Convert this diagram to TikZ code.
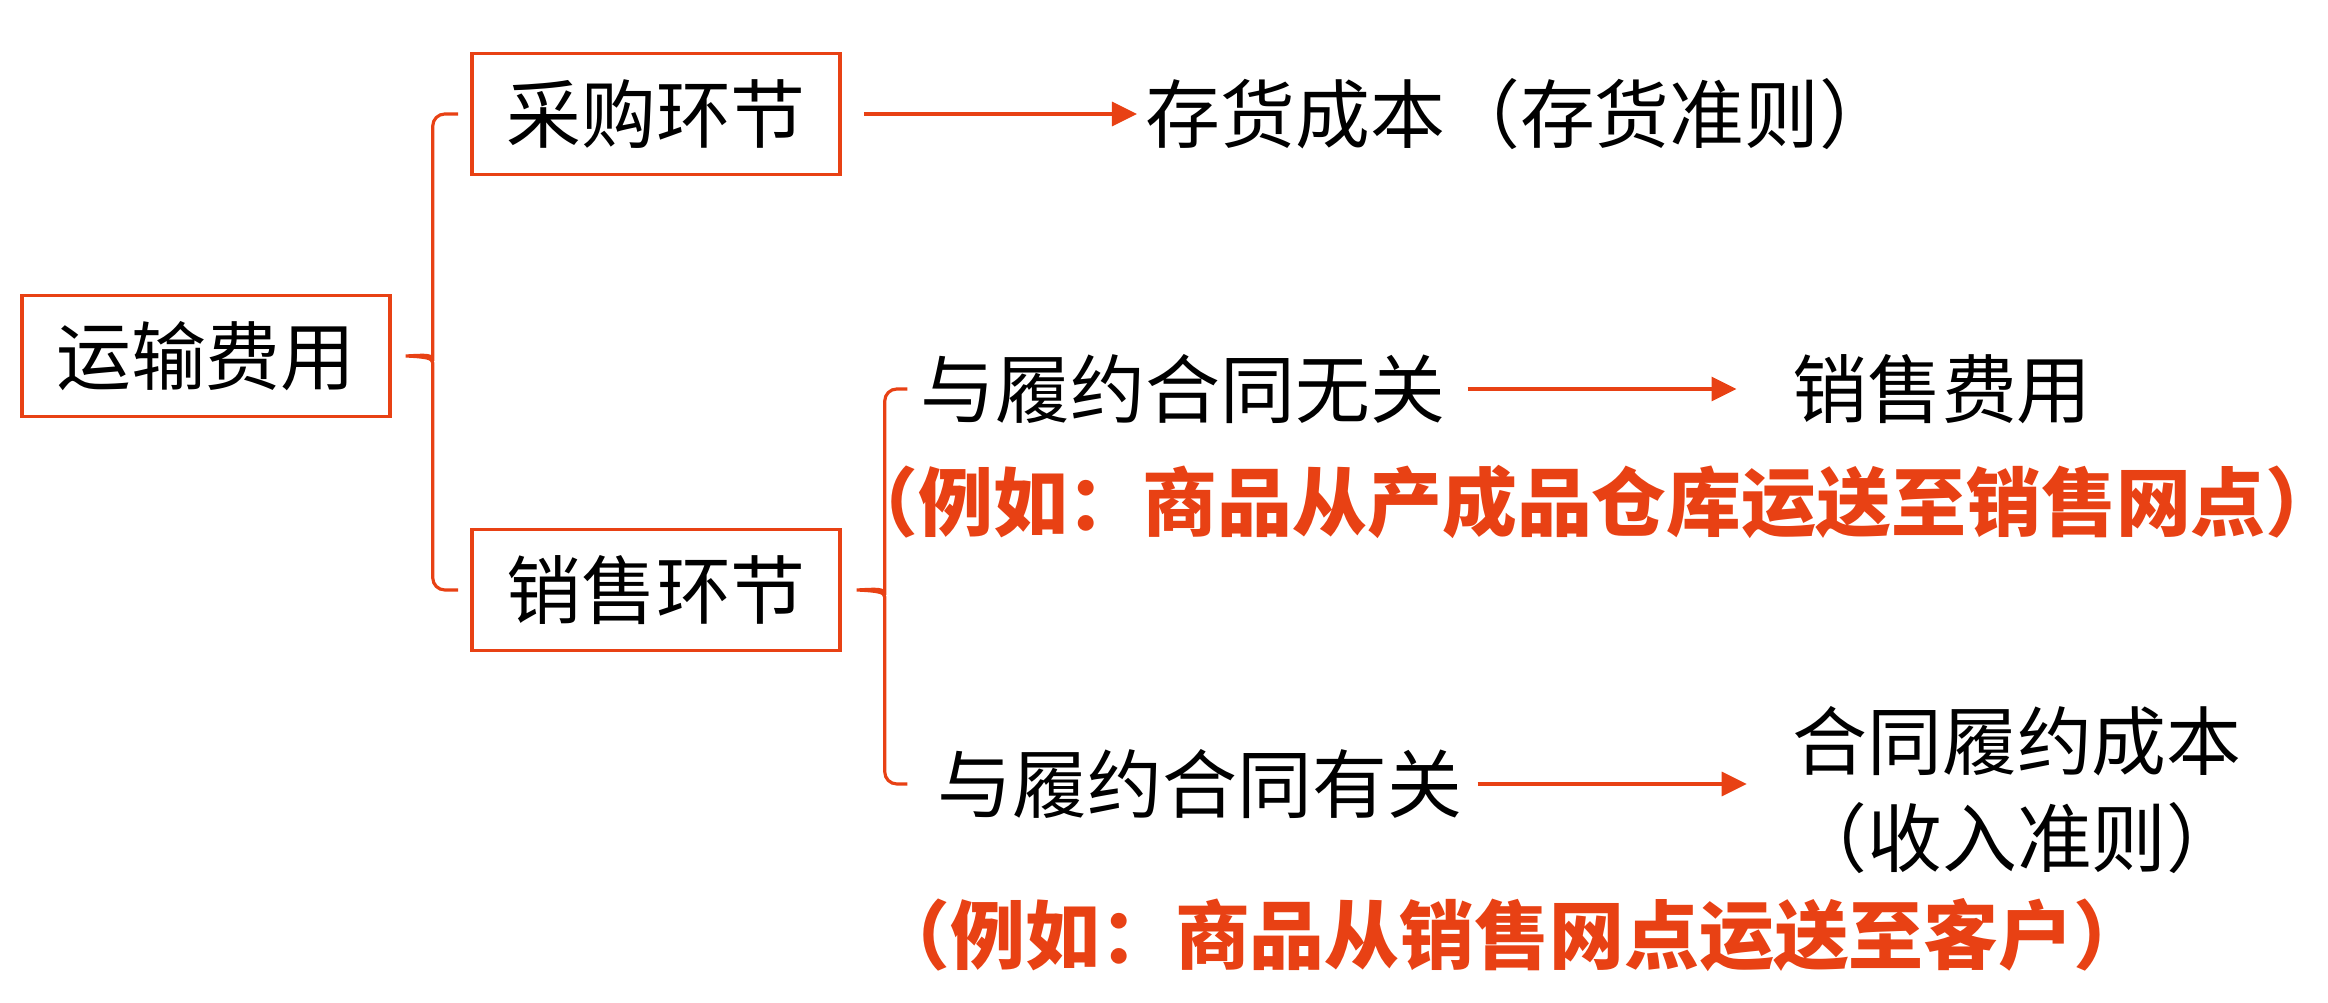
\documentclass[tikz,border=0pt]{standalone}
\usepackage{fontspec}
\setmainfont{Noto Sans CJK SC}
\usepackage{xcolor}
\usepackage{tikz}
\usetikzlibrary{arrows.meta,positioning,calc}

\definecolor{hong}{RGB}{232,65,20}

\tikzset{
  kuang/.style={draw=hong, line width=1pt, minimum width=3.68cm, minimum height=1.21cm},
  wenzi/.style={inner sep=0.08cm},
  lizi/.style={inner sep=0pt, text=hong, font=\fontsize{21.3}{27.5}\selectfont\bfseries},
  arr/.style={draw=hong, line width=0.9pt, -{Triangle[length=0.25cm, width=0.24cm]}},
  brc/.style={draw=hong, line width=0.9pt}
}

\begin{document}
\begin{tikzpicture}[font=\fontsize{21.3}{27.5}\selectfont, x=1cm, y=1cm]
\useasboundingbox (0,0) rectangle (23.28,-10.03);
% Boxes
\node[kuang] (yunshu) at (2.06,-3.56) {运输费用};
\node[kuang] (caigou) at (6.56,-1.14) {采购环节};
\node[kuang] (xiaoshou) at (6.56,-5.90) {销售环节};
% Texts
\node[wenzi] (cunhuo) at (15.20,-1.14) {存货成本（存货准则）};
\node[wenzi] (wuguan) at (11.83,-3.89) {与履约合同无关};
\node[wenzi] (feiyong) at (19.42,-3.89) {销售费用};
\node[lizi] (lizi1) at (15.92,-5.02) {（例如：商品从产成品仓库运送至销售网点）};
\node[wenzi] (youguan) at (12.00,-7.84) {与履约合同有关};
\node[wenzi, align=center] (hetong) at (20.17,-7.90) {合同履约成本\\（收入准则）};
\node[lizi] (lizi2) at (15.12,-9.35) {（例如：商品从销售网点运送至客户）};
% Braces
\coordinate (b1tip) at ([xshift=0.14cm]yunshu.east);
\coordinate (b1v) at ([xshift=0.27cm]b1tip);
\coordinate (b1top) at ([xshift=-0.12cm]caigou.west);
\coordinate (b1bot) at ([xshift=-0.12cm]xiaoshou.west);
\draw[brc] (b1top) [rounded corners=0.12cm] -- (b1top -| b1v) -- ([yshift=0.07cm]b1v)
  [sharp corners] .. controls +(0,-0.05) and +(0.2,0.01) .. (b1tip)
  .. controls +(0.2,-0.01) and +(0,0.05) .. ([yshift=-0.07cm]b1v)
  [rounded corners=0.12cm] -- (b1bot -| b1v) -- (b1bot);
\coordinate (b2tip) at ([xshift=0.15cm]xiaoshou.east);
\coordinate (b2v) at ([xshift=0.28cm]b2tip);
\coordinate (b2top) at ([xshift=-0.05cm]wuguan.west);
\coordinate (b2bot) at (b2top |- youguan.west);
\draw[brc] (b2top) [rounded corners=0.12cm] -- (b2top -| b2v) -- ([yshift=0.07cm]b2v)
  [sharp corners] .. controls +(0,-0.05) and +(0.2,0.01) .. (b2tip)
  .. controls +(0.2,-0.01) and +(0,0.05) .. ([yshift=-0.07cm]b2v)
  [rounded corners=0.12cm] -- (b2bot -| b2v) -- (b2bot);
% Arrows
\draw[arr] ([xshift=0.22cm]caigou.east) -- (cunhuo.west);
\draw[arr] ([xshift=0.14cm]wuguan.east) -- ([xshift=-0.47cm]feiyong.west);
\draw[arr] ([xshift=0.07cm]youguan.east) -- ($(youguan.east -| hetong.west)+(-0.37,0)$);
\end{tikzpicture}
\end{document}
